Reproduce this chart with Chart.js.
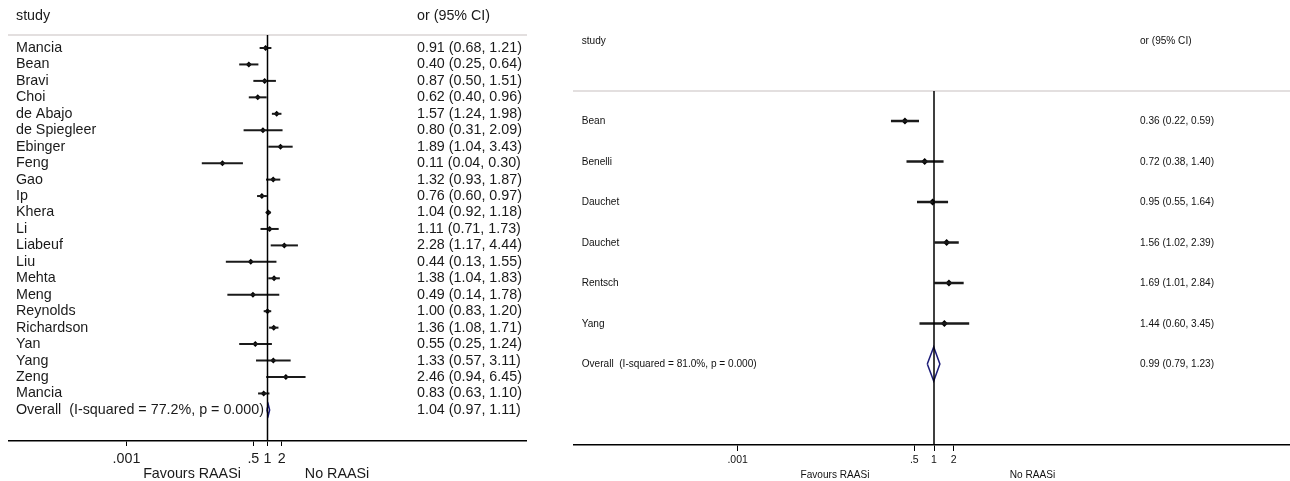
<!DOCTYPE html>
<html><head><meta charset="utf-8">
<script src="https://cdn.jsdelivr.net/npm/chart.js@4.4.1/dist/chart.umd.min.js"></script>
<style>
html,body{margin:0;padding:0;background:#fff;overflow:hidden;width:1290px;height:481px;position:relative;}
canvas{position:absolute;top:0;}
</style></head><body>
<canvas id="left" width="560" height="481" style="left:0px"></canvas>
<canvas id="right" width="738" height="481" style="left:560px"></canvas>
<script>
// ---------- data: left panel ----------
const leftStudies = ['Mancia','Bean','Bravi','Choi','de Abajo','de Spiegleer','Ebinger','Feng','Gao','Ip','Khera','Li','Liabeuf','Liu','Mehta','Meng','Reynolds','Richardson','Yan','Yang','Zeng','Mancia'];
const leftOR = [0.91,0.40,0.87,0.62,1.57,0.80,1.89,0.11,1.32,0.76,1.04,1.11,2.28,0.44,1.38,0.49,1.00,1.36,0.55,1.33,2.46,0.83];
const leftLo = [0.68,0.25,0.50,0.40,1.24,0.31,1.04,0.04,0.93,0.60,0.92,0.71,1.17,0.13,1.04,0.14,0.83,1.08,0.25,0.57,0.94,0.63];
const leftHi = [1.21,0.64,1.51,0.96,1.98,2.09,3.43,0.30,1.87,0.97,1.18,1.73,4.44,1.55,1.83,1.78,1.20,1.71,1.24,3.11,6.45,1.10];
const leftOverall = [1.04,0.97,1.11];
const leftOverallLabel = 'Overall  (I-squared = 77.2%, p = 0.000)';

// ---------- data: right panel ----------
const rightStudies = ['Bean','Benelli','Dauchet','Dauchet','Rentsch','Yang'];
const rightOR = [0.36,0.72,0.95,1.56,1.69,1.44];
const rightLo = [0.22,0.38,0.55,1.02,1.01,0.60];
const rightHi = [0.59,1.40,1.64,2.39,2.84,3.45];
const rightOverall = [0.99,0.79,1.23];
const rightOverallLabel = 'Overall  (I-squared = 81.0%, p = 0.000)';

// ---------- axis ----------
const tickValues = [0.001,0.5,1,2];
const tickLabels = ['.001','.5','1','2'];
const headerLabels = ['study','or (95% CI)'];
const favourLabels = ['Favours RAASi','No RAASi'];

const FAMILY = '"Liberation Sans", Arial, Helvetica, sans-serif';

function fmt(v){ return v.toFixed(2); }

function makePanel(id, studies, est, lo, hi, overall, overallLabel, g){
  const n = studies.length;
  const datasets = [];
  datasets.push({data:[{x:1,y:g.yMin},{x:1,y:g.yMax}], showLine:true, borderColor:'#000', borderWidth:g.nullW, pointRadius:0});
  studies.forEach((s,i)=>{
    datasets.push({data:[{x:lo[i],y:i},{x:hi[i],y:i}], showLine:true, borderColor:'#1a1a1a', borderWidth:g.ciW, pointRadius:0});
  });
  datasets.push({data:est.map((v,i)=>({x:v,y:i})), pointStyle:'rectRot', pointRadius:g.ptR, backgroundColor:'#000', borderColor:'#000', borderWidth:0});
  const yo = n;
  datasets.push({data:[{x:overall[1],y:yo},{x:overall[0],y:yo-g.dH},{x:overall[2],y:yo},{x:overall[0],y:yo+g.dH},{x:overall[1],y:yo}],
    showLine:true, borderColor:'#1c1c78', borderWidth:g.dW, pointRadius:0, fill:false, tension:0});

  const textPlugin = {
    id:'forestText',
    afterDraw(chart){
      const ctx = chart.ctx, ys = chart.scales.y;
      const sx = g.hScale;
      const put = (t, x, y) => ctx.fillText(t, x / sx, y);
      ctx.save();
      ctx.scale(sx, 1);
      ctx.fillStyle = g.textColor;
      ctx.font = g.font + 'px ' + FAMILY;
      ctx.textBaseline = 'middle';
      ctx.textAlign = 'left';
      put(headerLabels[0], g.labelX, g.headerY);
      put(headerLabels[1], g.valueX, g.headerY);
      studies.forEach((s,i)=>{
        const y = ys.getPixelForValue(i);
        put(s, g.labelX, y);
        put(fmt(est[i]) + ' (' + fmt(lo[i]) + ', ' + fmt(hi[i]) + ')', g.valueX, y);
      });
      const yo2 = ys.getPixelForValue(n);
      put(overallLabel, g.labelX, yo2);
      put(fmt(overall[0]) + ' (' + fmt(overall[1]) + ', ' + fmt(overall[2]) + ')', g.valueX, yo2);
      ctx.textAlign = 'center';
      put(favourLabels[0], g.favX[0], g.favY);
      put(favourLabels[1], g.favX[1], g.favY);
      ctx.restore();
    }
  };

  return new Chart(document.getElementById(id), {
    type:'scatter',
    data:{datasets},
    plugins:[textPlugin],
    options:{
      responsive:false, animation:false, devicePixelRatio:1,
      events:[],
      layout:{padding:g.pad},
      plugins:{legend:{display:false}, tooltip:{enabled:false}},
      scales:{
        x:{
          type:'logarithmic', position:'bottom', min:Math.pow(10,-5.5), max:Math.pow(10,5.5), bounds:'data',
          afterBuildTicks:s=>{ s.ticks = tickValues.map(v=>({value:v})); },
          afterFit:s=>{ s.height = g.xAxisH; },
          grid:{display:true, drawOnChartArea:false, drawTicks:true, tickLength:g.tickLen, color:'#000', lineWidth:1},
          border:{display:true, color:'#000', width:g.axisW},
          ticks:{autoSkip:false, maxRotation:0, padding:g.tickPad, color:g.textColor,
                 font:{family:FAMILY, size:g.tickFont}, callback:(v,i)=>tickLabels[i]}
        },
        x2:{
          type:'linear', position:'top', min:0, max:1,
          afterFit:s=>{ s.height = 0; },
          grid:{display:false}, ticks:{display:false},
          border:{display:true, color:'#e3dfdf', width:2}
        },
        y:{type:'linear', min:g.yMin, max:g.yMax, reverse:true, display:false}
      }
    }
  });
}

makePanel('left', leftStudies, leftOR, leftLo, leftHi, leftOverall, leftOverallLabel, {
  pad:{left:9, right:34, top:35, bottom:0}, xAxisH:40,
  yMin:-0.79, yMax:23.89,
  font:14.3, tickFont:14.3, hScale:1, textColor:'#1a1a1a',
  labelX:16, valueX:417, headerY:16,
  favX:[192,337], favY:474,
  tickLen:5, tickPad:4, axisW:1.5, nullW:1.5, ciW:2, ptR:3, dH:0.33, dW:1.5
});

makePanel('right', rightStudies, rightOR, rightLo, rightHi, rightOverall, rightOverallLabel, {
  pad:{left:14, right:0, top:91, bottom:0}, xAxisH:36,
  yMin:-0.741, yMax:8.0,
  font:11.8, tickFont:10.5, hScale:0.855, textColor:'#111',
  labelX:21.7, valueX:580, headerY:41,
  favX:[275,472.5], favY:475,
  tickLen:6, tickPad:3, axisW:1.5, nullW:1.5, ciW:2.5, ptR:3.5, dH:0.42, dW:1.5
});
</script>
</body></html>
